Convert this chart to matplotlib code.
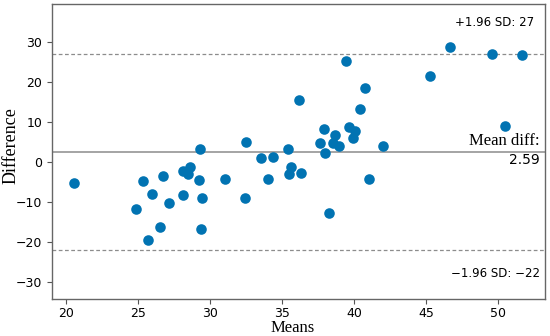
import matplotlib
matplotlib.use('Agg')
import matplotlib.pyplot as plt
import matplotlib.transforms as mtransforms

# data (means, differences)
means = [20.53, 24.86, 25.32, 25.69, 25.98, 26.53, 26.71, 27.13, 28.10, 28.13,
         28.45, 28.62, 29.24, 29.31, 29.33, 29.42, 31.00, 32.44, 32.46, 33.50,
         34.04, 34.38, 35.40, 35.45, 35.57, 36.16, 36.28, 37.65, 37.90, 37.95,
         38.25, 38.55, 38.66, 38.95, 39.41, 39.64, 39.92, 40.06, 40.38, 40.73,
         40.99, 41.96, 45.25, 46.64, 49.54, 50.46, 51.66]
diffs = [-5.1, -11.75, -4.75, -19.35, -7.9, -16.2, -3.35, -10.25, -2.2, -8.25,
         -2.9, -1.1, -4.5, 3.3, -16.6, -8.85, -4.1, -8.9, 5.1, 1.0,
         -4.1, 1.25, 3.25, -2.9, -1.1, 15.6, -2.6, 4.75, 8.25, 2.25,
         -12.6, 4.9, 6.75, 4.1, 25.3, 8.75, 6.15, 7.9, 13.25, 18.6,
         -4.1, 4.1, 21.6, 28.8, 27.0, 9.15, 26.75]

mean_diff = 2.59
upper = 27.2
lower = -22.0

blue = '#0173B2'
grey = '#8c8c8c'
serif = 'Liberation Serif'

fig = plt.figure(figsize=(5.5, 3.36), dpi=100)
ax = fig.add_axes([0.0945, 0.110, 0.8965, 0.878])

ax.scatter(means, diffs, s=58, color=blue, zorder=3, linewidths=0)
ax.axhline(mean_diff, color=grey, lw=1.1, zorder=1)
ax.axhline(upper, color=grey, lw=0.9, ls='--', dashes=(3, 2), zorder=1)
ax.axhline(lower, color=grey, lw=0.9, ls='--', dashes=(3, 2), zorder=1)

trans = mtransforms.blended_transform_factory(ax.transAxes, ax.transData)
ax.text(0.977, 35.1, '+1.96 SD: %d' % round(upper), transform=trans,
        ha='right', va='center', fontsize=8.5)
ax.text(0.99, 5.4, 'Mean diff:', transform=trans, ha='right', va='center',
        fontsize=12, family=serif)
ax.text(0.99, 0.7, '%.2f' % mean_diff, transform=trans, ha='right',
        va='center', fontsize=10)
ax.text(0.99, -27.7, '\u22121.96 SD: \u2212%d' % round(-lower),
        transform=trans, ha='right', va='center', fontsize=8.5)

ax.set_xlim(19.0, 53.25)
ax.set_ylim(-34.2, 39.6)
ax.set_xticks([20, 25, 30, 35, 40, 45, 50])
ax.set_yticks([-30, -20, -10, 0, 10, 20, 30])
ax.tick_params(labelsize=9, color='#555555', length=3.5)
ax.tick_params(axis='x', pad=2)
for sp in ax.spines.values():
    sp.set_color('#666666')
    sp.set_linewidth(1.0)

ax.set_xlabel('Means', family=serif, fontsize=12)
ax.set_ylabel('Difference', family=serif, fontsize=13)
ax.xaxis.set_label_coords(0.488, -0.07)
ax.yaxis.set_label_coords(-0.066, 0.52)

fig.savefig('out.png', dpi=100)
